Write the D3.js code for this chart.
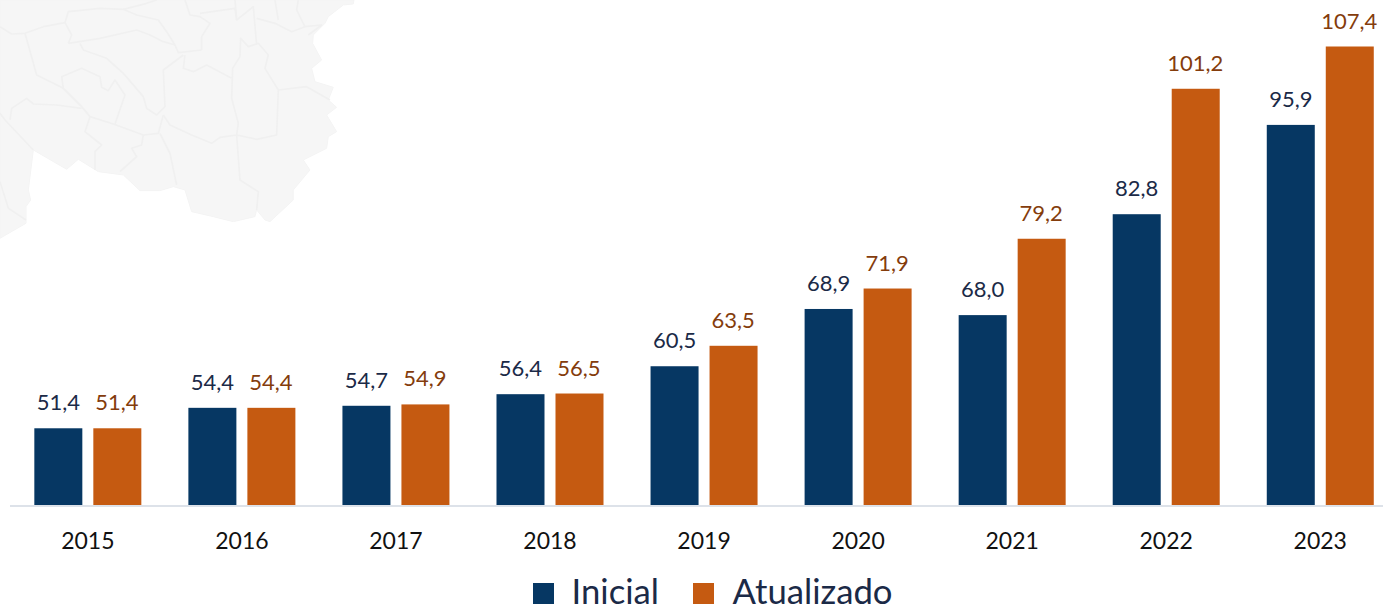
<!DOCTYPE html>
<html>
<head>
<meta charset="utf-8">
<script src="https://cdn.jsdelivr.net/npm/d3@7"></script>
<style>
html, body { margin: 0; padding: 0; background: #fff; }
svg { display: block; font-family: Lato, "Open Sans", sans-serif; }
</style>
</head>
<body>
<svg></svg>
<script>
var years = ["2015","2016","2017","2018","2019","2020","2021","2022","2023"];
var inicial = [51.4,54.4,54.7,56.4,60.5,68.9,68.0,82.8,95.9];
var atualizado = [51.4,54.4,54.9,56.5,63.5,71.9,79.2,101.2,107.4];
var seriesNames = ["Inicial","Atualizado"];
var barColors = ["#063763","#C55A11"];
var labelColors = ["#1B2A47","#843C0C"];

var mapOutline = [[1062,0],[1060,12],[1030,15],[985,50],[975,70],[940,105],[938,130],[965,180],[935,205],[945,245],[1000,262],[985,300],[1010,322],[980,345],[1010,395],[985,410],[980,445],[910,480],[930,510],[880,570],[880,600],[810,665],[795,660],[770,630],[765,650],[700,665],[640,650],[575,635],[555,570],[520,560],[480,572],[420,572],[370,525],[295,515],[235,478],[200,508],[100,450],[85,570],[92,600],[78,620],[78,670],[0,715],[0,0]];
var mapBorders = [
  [[0,80],[35,102],[75,100],[130,80],[195,68],[215,105],[205,130]],
  [[195,68],[205,35],[300,25],[370,28],[440,10],[470,0]],
  [[205,130],[300,115],[410,90],[450,105],[490,125],[525,135],[535,158],[605,150]],
  [[370,28],[410,45],[475,60],[500,95],[525,135]],
  [[240,130],[250,150],[320,175],[370,220],[430,290],[440,325],[470,345],[495,320],[490,210],[550,165]],
  [[75,100],[110,225],[190,265],[245,320],[270,350],[340,372],[430,405],[475,400],[490,345]],
  [[190,265],[185,230],[245,205],[300,230],[305,262],[325,272],[345,240],[375,285],[345,372]],
  [[30,360],[35,325],[80,295],[100,312],[170,315],[245,325]],
  [[270,350],[255,395],[305,435],[285,455],[285,510]],
  [[430,405],[425,435],[395,445],[410,470],[360,515]],
  [[490,345],[510,375],[575,405],[635,430],[660,412],[710,405],[770,418],[830,405],[835,270],[795,205],[805,165],[775,130],[745,140],[722,115],[720,170],[698,205],[695,295],[715,370],[710,405],[720,540],[775,575],[770,630]],
  [[480,400],[510,460],[530,555]],
  [[555,165],[550,205],[580,215],[620,195],[695,235]],
  [[555,0],[570,45],[600,50],[630,70],[605,110],[605,150]],
  [[600,40],[705,25],[710,60],[760,20],[770,135]],
  [[705,0],[710,60]],
  [[770,55],[825,70],[875,95],[915,80],[965,75],[925,105]],
  [[825,0],[835,60]],
  [[895,0],[890,30],[915,80]],
  [[835,270],[920,260],[990,300]],
  [[0,340],[15,360],[100,450]],
  [[0,545],[25,625],[78,660]]
];

var width = 1383, height = 608;
var baseY = 506, topY = 46.5;

var svg = d3.select("svg")
    .attr("width", width)
    .attr("height", height);

var line = d3.line();
var map = svg.append("g").attr("transform", "scale(0.3333)");
map.append("path")
    .attr("d", line(mapOutline) + "Z")
    .style("fill", "#F6F6F6")
    .style("stroke", "#F4F4F4")
    .style("stroke-width", 3)
    .style("stroke-linejoin", "round");
map.selectAll(".border")
    .data(mapBorders)
    .enter().append("path")
    .attr("class","border")
    .attr("d", function(d) { return line(d); })
    .style("fill", "none")
    .style("stroke", "#F0F0F0")
    .style("stroke-width", 5)
    .style("stroke-linejoin", "round");

var x = d3.scaleBand()
    .domain(years)
    .range([10.8, 1397.3])
    .paddingInner(0);
var y = d3.scaleLinear()
    .domain([40, 107.4])
    .range([baseY, topY]);

var barW = 48;
var data = [];
years.forEach(function(year, i){
    data.push({ year: year, s: 0, value: inicial[i], off: -53.5 });
    data.push({ year: year, s: 1, value: atualizado[i], off: 5.5 });
});
function center(year){ return x(year) + x.bandwidth()/2; }
function fmt(v){ return v.toFixed(1).replace(".", ","); }

svg.selectAll(".bar")
    .data(data)
    .enter().append("rect")
    .attr("class","bar")
    .attr("x", function(d) { return center(d.year) + d.off; })
    .attr("y", function(d) { return y(d.value); })
    .attr("width", barW)
    .attr("height", function(d) { return baseY - y(d.value); })
    .style("fill", function(d) { return barColors[d.s]; });

svg.selectAll(".value")
    .data(data)
    .enter().append("text")
    .attr("class","value")
    .attr("x", function(d) { return center(d.year) + d.off + barW/2 + (d.s ? -0.5 : 0); })
    .attr("y", function(d) { return y(d.value) - 18; })
    .attr("text-anchor", "middle")
    .style("font-size", "22px")
    .style("fill", function(d) { return labelColors[d.s]; })
    .text(function(d) { return fmt(d.value); });

var axis = d3.axisBottom(x).tickSize(0).tickPadding(0);
var axisG = svg.append("g")
    .attr("transform", "translate(0," + baseY + ")")
    .call(axis);
axisG.select(".domain").remove();
axisG.append("line")
    .attr("x1", 10).attr("x2", width)
    .style("stroke", "#DDE2E9")
    .style("stroke-width", 2);
axisG.selectAll(".tick text")
    .attr("y", 26.5)
    .attr("dy", "0.71em")
    .style("font-family", "Lato, sans-serif")
    .style("font-size", "23px")
    .style("fill", "#111");

var legendX = [533, 693];
var legend = svg.selectAll(".legend")
    .data(seriesNames)
    .enter().append("g")
    .attr("class","legend")
    .attr("transform", function(d, i) { return "translate(" + legendX[i] + ",583)"; });
legend.append("rect")
    .attr("width", 21)
    .attr("height", 21)
    .style("fill", function(d, i) { return barColors[i]; });
legend.append("text")
    .attr("x", function(d, i) { return i ? 39.5 : 38.5; })
    .attr("y", 21)
    .style("font-size", "34.7px")
    .style("fill", "#1B2A47")
    .text(function(d) { return d; });
</script>
</body>
</html>
